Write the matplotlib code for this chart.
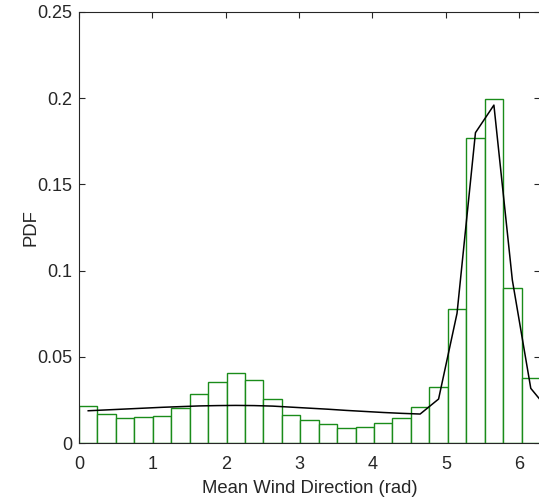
import numpy as np
import matplotlib
matplotlib.use("Agg")
import matplotlib.pyplot as plt
from matplotlib.ticker import FuncFormatter

# Histogram of mean wind direction (25 bins over [0, 2*pi])
n_bins = 25
bar_heights = [0.0215, 0.0170, 0.0147, 0.0149, 0.0155, 0.0203, 0.0284, 0.0352,
               0.0408, 0.0364, 0.0257, 0.0164, 0.0133, 0.0108, 0.0089, 0.0091,
               0.0114, 0.0147, 0.0210, 0.0327, 0.0779, 0.1771, 0.1997, 0.0899,
               0.0377]

# Fitted PDF evaluated at bin centres (last point wraps past 2*pi)
pdf_values = [0.0187, 0.0192, 0.0197, 0.0202, 0.0207, 0.0211, 0.0215, 0.0217,
              0.0218, 0.0217, 0.0214, 0.0208, 0.0202, 0.0196, 0.0189, 0.0183,
              0.0177, 0.0172, 0.0168, 0.0255, 0.0752, 0.1800, 0.1960, 0.0945,
              0.0317, 0.0187]

y_ticks = [0, 0.05, 0.1, 0.15, 0.2, 0.25]
x_ticks = [0, 1, 2, 3, 4, 5, 6]

plt.rcParams['font.family'] = ['Liberation Sans', 'DejaVu Sans']

fig = plt.figure(figsize=(5.39, 4.99), dpi=100)
ax = fig.add_axes([79 / 539, 1 - 443 / 499, 461 / 539, 431 / 499])

edges = np.linspace(0, 2 * np.pi, n_bins + 1)
width = edges[1] - edges[0]
centers = edges[:-1] + width / 2
ax.bar(centers, bar_heights, width=width, facecolor='white',
       edgecolor='#1a8c1a', linewidth=1.0, zorder=2)

line_x = edges[0] + width / 2 + width * np.arange(len(pdf_values))
ax.plot(line_x, pdf_values, color='black', linewidth=1.1, zorder=3)

ax.set_xlim(0, 2 * np.pi)
ax.set_ylim(0, 0.25)
ax.set_xticks(x_ticks)
ax.set_yticks(y_ticks)
ax.yaxis.set_major_formatter(FuncFormatter(lambda v, p: f"{v:g}"))

text_color = '#262626'
ax.tick_params(direction='in', length=4, width=0.8, colors=text_color,
               labelsize=13, top=True, right=True)
ax.tick_params(axis='x', pad=9.5)
ax.tick_params(axis='y', pad=5)
for s in ax.spines.values():
    s.set_linewidth(0.8)
    s.set_color(text_color)

ax.set_xlabel('Mean Wind Direction (rad)', fontsize=13.3, color=text_color, labelpad=5)
ax.set_ylabel('PDF', fontsize=13.3, color=text_color, labelpad=-2)

fig.savefig('out.png', dpi=100)
